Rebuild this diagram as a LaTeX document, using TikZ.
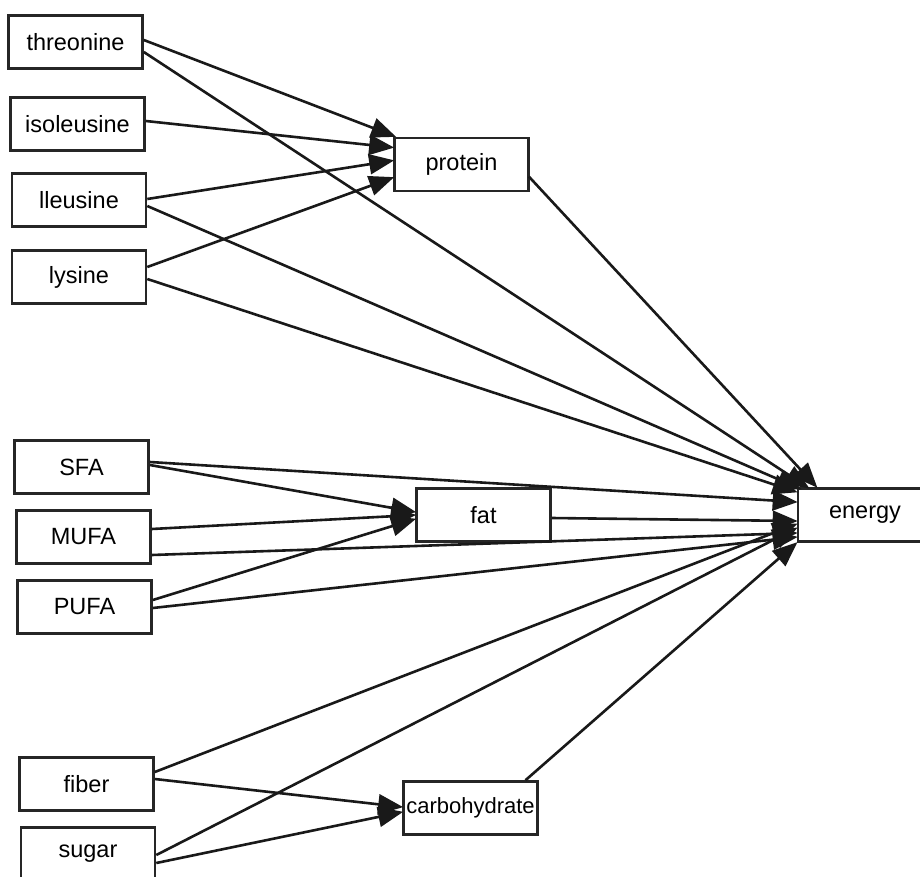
\documentclass[tikz,border=0pt]{standalone}
\usepackage{fontspec}
\setmainfont{Liberation Sans}
\usetikzlibrary{arrows.meta,calc}
\begin{document}
\begin{tikzpicture}[x=1pt,y=-1pt,
  box/.style={draw=black!85, line width=2.6pt, fill=white, minimum width=134pt, minimum height=53pt, inner sep=0pt, font=\fontsize{23.5}{26}\selectfont},
  edge/.style={line width=2.6pt, black!90, -{Triangle[length=25pt,width=20pt]}, shorten >=-1pt}]
\clip (0,0) rectangle (920,877);
\fill[white] (0,0) rectangle (920,877);
% nodes
\node[box] (threonine) at (75.5,42) {threonine};
\node[box] (isoleusine) at (77.5,124) {isoleusine};
\node[box] (lleusine) at (79,200) {lleusine};
\node[box] (lysine) at (79,277) {lysine};
\node[box] (protein) at (461.5,164.5) {protein};
\node[box] (SFA) at (81.5,467) {SFA};
\node[box] (MUFA) at (83.5,537) {MUFA};
\node[box] (PUFA) at (84.5,607) {PUFA};
\node[box] (fat) at (483.5,515) {fat};
\node[box] (energy) at (865,515) {energy};
\node[box] (fiber) at (86.5,784) {fiber};
\node[box] (sugar) at (88,854) {sugar};
\node[box,font=\fontsize{22}{26}\selectfont] (carbohydrate) at (470.5,808) {carbohydrate};
% edges to protein
\draw[edge] ($(threonine.east)+(0,-2)$) -- ($(protein.west)+(2,-28)$);
\draw[edge] ($(isoleusine.east)+(0,-3)$) -- ($(protein.west)+(0,-17)$);
\draw[edge] ($(lleusine.east)+(0,-1)$) -- ($(protein.west)+(0,-4)$);
\draw[edge] ($(lysine.east)+(0,-10)$) -- ($(protein.west)+(0,13)$);
% edges to fat
\draw[edge] ($(SFA.east)+(0,-2)$) -- ($(fat.west)+(0,-3)$);
\draw[edge] ($(MUFA.east)+(0,-8)$) -- ($(fat.west)+(0,0)$);
\draw[edge] ($(PUFA.east)+(0,-7)$) -- ($(fat.west)+(0,4)$);
% edges to carbohydrate
\draw[edge] ($(fiber.east)+(0,-5)$) -- ($(carbohydrate.west)+(0,-1)$);
\draw[edge] ($(sugar.east)+(0,9)$) -- ($(carbohydrate.west)+(0,4)$);
% edges to energy
\draw[edge] ($(threonine.east)+(0,10)$) -- ($(energy.west)+(12,-27)$);
\draw[edge] ($(lleusine.east)+(0,6)$) -- ($(energy.west)+(4,-26)$);
\draw[edge] ($(lysine.east)+(0,2)$) -- ($(energy.west)+(0,-23)$);
\draw[edge] ($(protein.east)+(-1,12)$) -- ($(energy.west)+(20,-28)$);
\draw[edge] ($(SFA.east)+(0,-5)$) -- ($(energy.west)+(0,-13)$);
\draw[edge] ($(MUFA.east)+(0,18)$) -- ($(energy.west)+(0,18)$);
\draw[edge] ($(PUFA.east)+(0,1)$) -- ($(energy.west)+(0,22)$);
\draw[edge] ($(fat.east)+(0,3)$) -- ($(energy.west)+(0,6)$);
\draw[edge] ($(fiber.east)+(0,-12)$) -- ($(energy.west)+(0,9)$);
\draw[edge] ($(sugar.east)+(0,1)$) -- ($(energy.west)+(0,13)$);
\draw[edge] ($(carbohydrate.north)+(55,0)$) -- ($(energy.south west)+(0,0)$);
\end{tikzpicture}
\end{document}
